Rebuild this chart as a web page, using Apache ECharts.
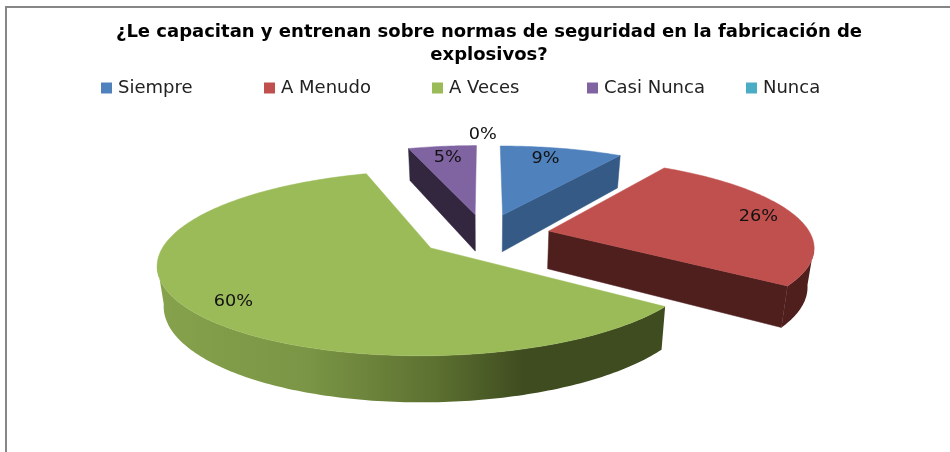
<!DOCTYPE html>
<html>
<head>
<meta charset="utf-8">
<title>Capacitación</title>
<script src="https://cdn.jsdelivr.net/npm/echarts@6/dist/echarts.min.js"></script>
<style>
  html, body { margin: 0; background: #fff; }
  #chart { width: 950px; height: 452px; }
</style>
</head>
<body>
<div id="chart"></div>
<script>
const titleText = '¿Le capacitan y entrenan sobre normas de seguridad en la fabricación de\nexplosivos?';
const categories = ['Siempre', 'A Menudo', 'A Veces', 'Casi Nunca', 'Nunca'];
const percents = [9, 26, 60, 5, 0];

// look of each slice
const topColors = ['#4F81BD', '#C0504D', '#9BBB59', '#8064A2', '#4BACC6'];
const sideColors = ['#355A85', '#4F1F1E', '#6F8840', '#33273F', '#2F7A8E'];
const labelRadius = [0.81, 0.85, 0.85, 0.81, 1.17];
const labelTurn = [-2, -0.5, -4, 0, -0.5];
const legendLeft = [96, 259, 427, 582, 741];

// tilted pie: the flat circle is squeezed and the near side drawn bigger
const centerX = 485, centerY = 235;
const radiusX = 262, radiusY = 86, nearGrow = 0.16;
const pull = 0.25, depth = 38, bottomShrink = 0.98;

function polar(deg, r) {
  const a = deg * Math.PI / 180;
  return [r * Math.sin(a), -r * Math.cos(a)];
}
function project(u, v) {
  const w = 1 - nearGrow * v;
  return [centerX + radiusX * u / w, centerY + radiusY * v / w];
}

const total = percents.reduce((a, b) => a + b, 0);
const startAngles = [];
percents.reduce((sum, val, i) => {
  startAngles[i] = sum / total * 360;
  return sum + val;
}, 0);

function sliceShapes(i) {
  const start = startAngles[i];
  const sweep = percents[i] / total * 360;
  const end = start + sweep;
  const mid = start + sweep / 2;
  const off = polar(mid, pull);

  // one edge point of the slice, top face and the matching bottom face
  const topAt = (deg, r) => {
    const p = polar(deg, r);
    return project(off[0] + p[0], off[1] + p[1]);
  };
  const downOf = (deg, r) => {
    const p = polar(deg, r);
    const t = project(off[0] + p[0], off[1] + p[1]);
    const w = 1 - nearGrow * (off[1] + p[1]);
    return [centerX + (t[0] - centerX) * bottomShrink, t[1] + depth / w];
  };

  const apex = topAt(mid, 0);
  const arc = [];
  const steps = Math.max(2, Math.ceil(sweep));
  for (let s = 0; s <= steps; s++) arc.push(start + sweep * s / steps);

  const shapes = { mid, topAt, sides: [], outer: null };
  shapes.top = [apex].concat(arc.map(d => topAt(d, 1)));

  if (Math.sin(start * Math.PI / 180) < -0.01) {
    shapes.sides.push([apex, topAt(start, 1), downOf(start, 1), downOf(start, 0)]);
  }
  if (Math.sin(end * Math.PI / 180) > 0.01) {
    shapes.sides.push([apex, topAt(end, 1), downOf(end, 1), downOf(end, 0)]);
  }
  const front = arc.filter(d => -Math.cos(d * Math.PI / 180) >= nearGrow);
  if (front.length > 1) {
    shapes.outer = front.map(d => topAt(d, 1)).concat(front.slice().reverse().map(d => downOf(d, 1)));
  }
  return shapes;
}

const greenSide = new echarts.graphic.LinearGradient(0, 0, 1, 0, [
  { offset: 0, color: '#86A24C' },
  { offset: 0.3, color: '#7A9545' },
  { offset: 0.55, color: '#5C7030' },
  { offset: 0.72, color: '#3F4C20' },
  { offset: 1, color: '#3F4C20' }
]);

function renderSlice(i) {
  return function (params, api) {
    const s = sliceShapes(i);
    const children = [];
    if (percents[i] > 0) {
      s.sides.forEach(pts => children.push({
        type: 'polygon', shape: { points: pts },
        style: { fill: sideColors[i], stroke: sideColors[i], lineWidth: 0.5 }
      }));
      if (s.outer) children.push({
        type: 'polygon', shape: { points: s.outer },
        style: { fill: i === 2 ? greenSide : sideColors[i] }
      });
      children.push({
        type: 'polygon', shape: { points: s.top },
        style: { fill: topColors[i], stroke: topColors[i], lineWidth: 0.5 }
      });
    }
    const at = s.topAt(s.mid + labelTurn[i], labelRadius[i]);
    children.push({
      type: 'text', x: at[0], y: at[1], scaleX: 1.18, z2: 10,
      style: {
        text: api.value(0) + '%', fill: '#111',
        font: '15px "DejaVu Sans"', align: 'center', verticalAlign: 'middle'
      }
    });
    return { type: 'group', children };
  };
}

// back slices first so the green one sits in front
const drawOrder = [3, 4, 0, 1, 2];
const chart = echarts.init(document.getElementById('chart'));
chart.setOption({
  animation: false,
  backgroundColor: '#fff',
  color: topColors,
  title: {
    text: titleText,
    left: 484,
    top: 16,
    textAlign: 'center',
    textStyle: { fontFamily: 'DejaVu Sans', fontWeight: 'bold', fontSize: 18, lineHeight: 23, color: '#000' }
  },
  legend: categories.map((name, i) => ({
    data: [{ name, icon: 'rect' }],
    left: legendLeft[i],
    top: 74,
    itemWidth: 11,
    itemHeight: 11,
    itemStyle: { color: topColors[i] },
    textStyle: { fontFamily: 'DejaVu Sans', fontSize: 18, color: '#222', padding: [0, 0, 0, 1] }
  })),
  graphic: [{
    type: 'polyline',
    shape: { points: [[6, 452], [6, 7], [950, 7]] },
    style: { stroke: '#868686', lineWidth: 2, fill: null }
  }],
  series: drawOrder.map(i => ({
    type: 'custom',
    name: categories[i],
    coordinateSystem: 'none',
    silent: true,
    renderItem: renderSlice(i),
    data: [[percents[i]]]
  }))
});
</script>
</body>
</html>
